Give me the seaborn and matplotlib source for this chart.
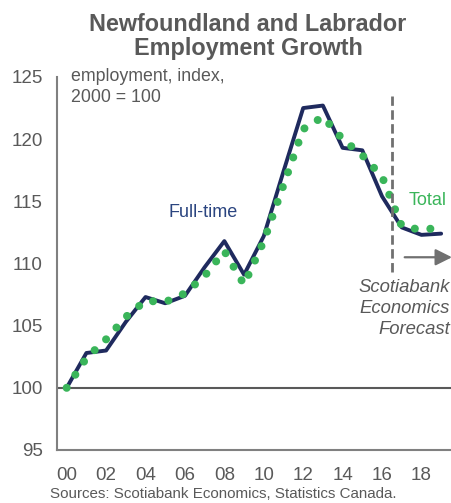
import numpy as np
import pandas as pd
import matplotlib
matplotlib.use('Agg')
import matplotlib.pyplot as plt
import seaborn as sns

# Data: employment index, 2000 = 100 (2017-2019 forecast)
years = list(range(2000, 2020))
full_time = [100.0, 102.8, 103.0, 105.3, 107.3, 106.8, 107.4, 109.7, 111.8, 109.1,
             112.2, 117.4, 122.5, 122.7, 119.3, 119.1, 115.4, 112.9, 112.3, 112.4]
total = [100.0, 102.4, 103.9, 105.7, 107.0, 106.9, 107.6, 109.0, 111.0, 108.3,
         111.8, 116.3, 120.8, 121.8, 120.0, 118.7, 117.0, 113.0, 112.7, 112.9]
tick_labels = [f'{y % 100:02d}' for y in years[::2]]

df = pd.DataFrame({'idx': np.arange(len(years)), 'year': years,
                   'Full-time': full_time, 'Total': total})

sns.set_style('white')
plt.rcParams['font.family'] = ['Liberation Sans', 'DejaVu Sans']

grey = '#595959'
navy = '#1F2A5E'
green = '#3AB55A'

fig = plt.figure(figsize=(4.51, 5.03), dpi=100)
ax = fig.add_axes([0.126, 0.1054, 0.874, 0.7416])

# Full-time solid line
sns.lineplot(data=df, x='idx', y='Full-time', ax=ax, color=navy, linewidth=2.8)
# Total dotted line (round dots)
sns.lineplot(data=df, x='idx', y='Total', ax=ax, color=green, linewidth=5.8,
             linestyle=(0, (0.001, 1.95)), dash_capstyle='round')

ax.axhline(100, color=grey, linewidth=1.5, zorder=1)

# forecast marker
ax.plot([16.5, 16.5], [109.3, 123.5], color='#707070', linewidth=2, linestyle=(0, (3.4, 1.6)))
ax.annotate('', xy=(19.55, 110.5), xytext=(17.15, 110.5),
            arrowprops=dict(arrowstyle='-|>,head_length=1.0,head_width=0.5',
                            color='#707070', lw=1.6, shrinkA=0, shrinkB=0),
            annotation_clip=False)
ax.text(19.45, 106.4, 'Scotiabank\nEconomics\nForecast', ha='right', va='center',
        fontsize=13.3, style='italic', color=grey, linespacing=1.32)

ax.text(6.9, 114.1, 'Full-time', fontsize=13, color='#2B4580', ha='center', va='center')
ax.text(18.3, 115.1, 'Total', fontsize=13, color=green, ha='center', va='center')
ax.text(0.2, 125.75, 'employment, index,\n2000 = 100', fontsize=12.8, color=grey,
        ha='left', va='top', linespacing=1.3)

ax.set_xlim(-0.5, 19.5)
ax.set_ylim(95, 125)
ax.set_yticks(range(95, 126, 5))
ax.set_xticks(np.arange(0, 20, 2))
ax.set_xticklabels(tick_labels)
ax.set_xticks(np.arange(-0.5, 20, 2), minor=True)
ax.tick_params(axis='x', which='major', length=0, labelsize=13.5, labelcolor=grey, pad=12)
ax.tick_params(axis='x', which='minor', length=5, width=1.5, color='#808080', direction='out')
ax.tick_params(axis='y', length=5, width=1.5, color='#808080', direction='out',
               labelsize=13.5, labelcolor=grey, pad=5)
ax.set_xlabel('')
ax.set_ylabel('')
for s in ['top', 'right']:
    ax.spines[s].set_visible(False)
for s in ['left', 'bottom']:
    ax.spines[s].set_color('#808080')
    ax.spines[s].set_linewidth(1.5)

fig.text(0.55, 0.975, 'Newfoundland and Labrador\nEmployment Growth', ha='center', va='top',
         fontsize=16.8, fontweight='bold', color=grey, linespacing=1.1)
fig.text(0.496, 0.004, 'Sources: Scotiabank Economics, Statistics Canada.', ha='center',
         va='bottom', fontsize=10.9, color=grey)

fig.savefig('out.png', dpi=100)
